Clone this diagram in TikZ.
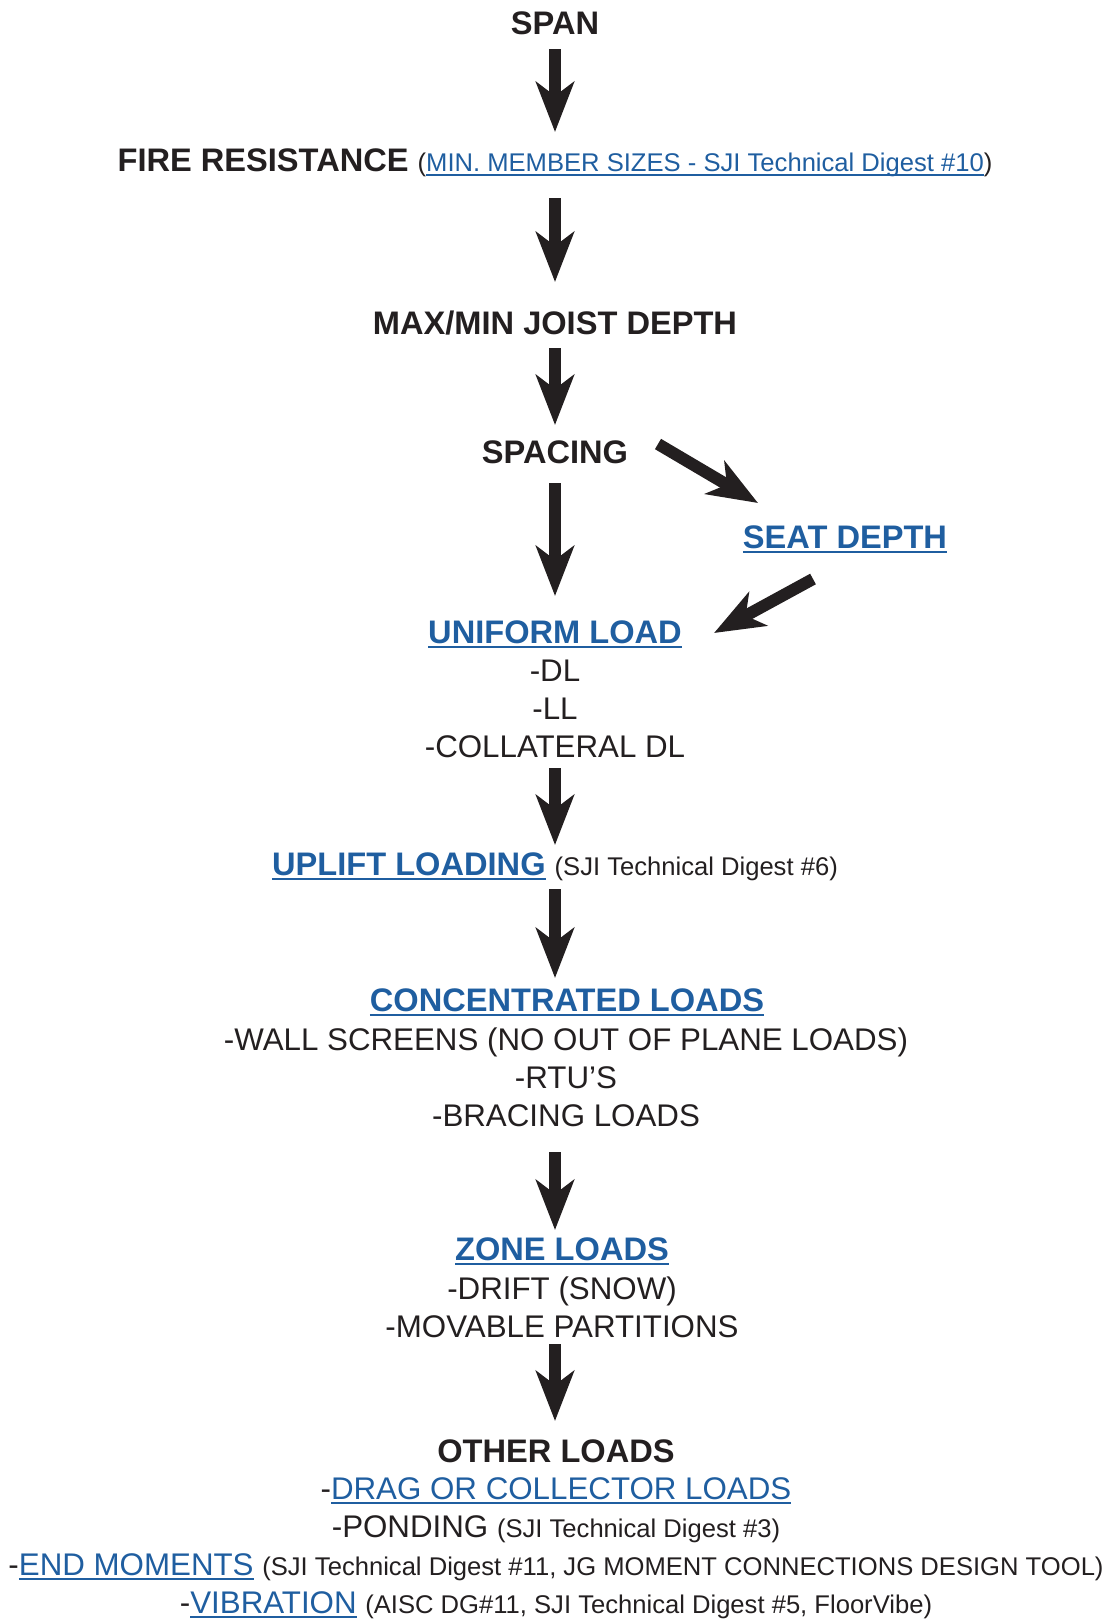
\documentclass[tikz,border=0pt]{standalone}
\usepackage{fontspec}
\setmainfont{Liberation Sans}
\usetikzlibrary{arrows.meta,calc}

\definecolor{linkblue}{RGB}{31,94,160}
\definecolor{ink}{RGB}{35,31,32}

\newsavebox{\lnkbox}
\newcommand{\lnk}[1]{\textcolor{linkblue}{\sbox{\lnkbox}{#1}\rlap{\rule[-4.5pt]{\wd\lnkbox}{1.6pt}}\usebox{\lnkbox}}}
\newcommand{\note}[1]{{\fontsize{25.6}{30}\selectfont #1}}

\tikzset{
  head/.style={font=\fontsize{32.6}{38}\selectfont\bfseries, text=ink, anchor=base, inner sep=0pt},
  item/.style={font=\fontsize{31.3}{37}\selectfont, text=ink, anchor=base, inner sep=0pt},
  flow/.style={draw=ink, line width=12pt, -{Stealth[length=50pt,width=38pt,inset=14pt]}}
}

\begin{document}
\begin{tikzpicture}[x=1pt, y=-1pt]

\useasboundingbox (0,0) rectangle (1107,1620);

\node[head] (span) at (555,34) {SPAN};
\node[head] (fire) at (555,171) {FIRE RESISTANCE \note{\mdseries(\lnk{MIN. MEMBER SIZES - SJI Technical Digest \#10})}};
\node[head] (maxmin) at (555,334) {MAX/MIN JOIST DEPTH};
\node[head] (spacing) at (555,463) {SPACING};
\node[head] (seat) at (845,548) {\lnk{SEAT DEPTH}};

\node[head] (uniform) at (555,643) {\lnk{UNIFORM LOAD}};
\foreach \n/\t/\y in {dl/-DL/681, ll/-LL/719, coll/-COLLATERAL DL/757}
\node[item] (\n) at (555,\y) {\t};

\node[head] (uplift) at (555,875) {\lnk{UPLIFT LOADING} \note{\mdseries(SJI Technical Digest \#6)}};

\node[head] (conc) at (567,1011) {\lnk{CONCENTRATED LOADS}};
\foreach \n/\t/\y in {wall/-WALL SCREENS (NO OUT OF PLANE LOADS)/1050, rtu/-RTU’S/1088, bracing/-BRACING LOADS/1126}
\node[item] (\n) at (566,\y) {\t};

\node[head] (zone) at (562,1260) {\lnk{ZONE LOADS}};
\foreach \n/\t/\y in {drift/-DRIFT (SNOW)/1299, movable/-MOVABLE PARTITIONS/1337}
\node[item] (\n) at (562,\y) {\t};

\node[head] (other) at (556,1462) {OTHER LOADS};
\node[item] (drag) at (556,1499) {-\lnk{DRAG OR COLLECTOR LOADS}};
\node[item] (ponding) at (556,1537) {-PONDING \note{(SJI Technical Digest \#3)}};
\node[item] (endmom) at (556,1575) {-\lnk{END MOMENTS} \note{(SJI Technical Digest \#11, JG MOMENT CONNECTIONS DESIGN TOOL)}};
\node[item] (vib) at (556,1613) {-\lnk{VIBRATION} \note{(AISC DG\#11, SJI Technical Digest \#5, FloorVibe)}};

% straight down the middle
\foreach \a/\b/\s/\e in {span/fire/15/39, fire/maxmin/27/52, maxmin/spacing/14/38,
  spacing/uniform/20/47, coll/uplift/11/30, uplift/conc/14/33,
  bracing/zone/26/30, movable/other/7/41}
\draw[flow] ($(\a.base -| span.base)+(0,\s)$) -- ($(\b.base -| span.base)+(0,-\e)$);

% detour over the seat depth
\draw[flow] ($(spacing.base)+(103,-19)$) -- ($(seat.base)+(-87,-45)$);
\draw[flow] ($(seat.base)+(-32,31)$) -- ($(uniform.base)+(159,-10)$);

\end{tikzpicture}
\end{document}
